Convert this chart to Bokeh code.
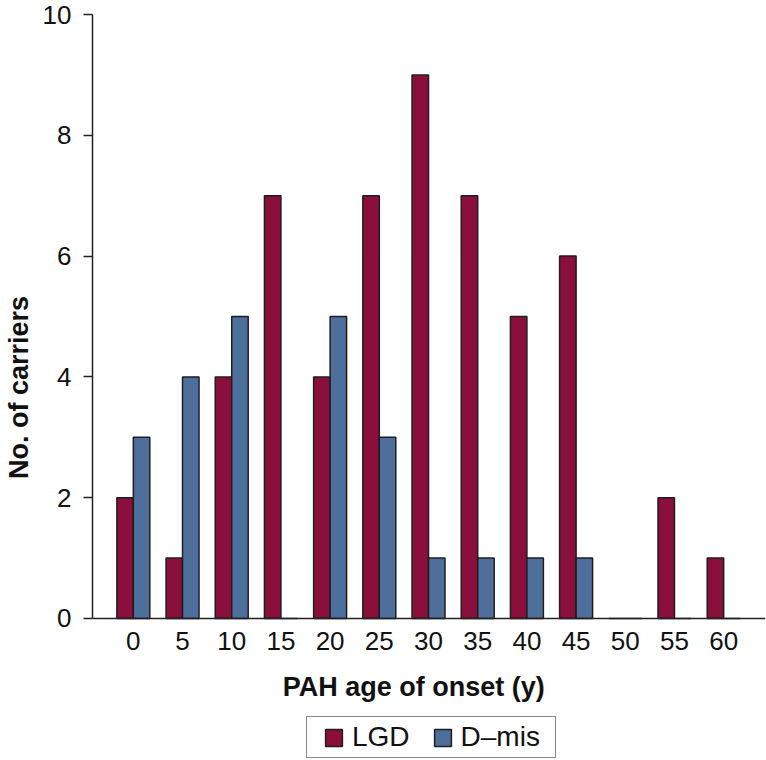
from bokeh.plotting import figure
from bokeh.models import ColumnDataSource, Legend, LegendItem, Label, FixedTicker, Range1d
from bokeh.transform import dodge
from bokeh.embed import file_html
from bokeh.resources import INLINE

ages = ["0", "5", "10", "15", "20", "25", "30", "35", "40", "45", "50", "55", "60"]
lgd = [2, 1, 4, 7, 4, 7, 9, 7, 5, 6, 0, 2, 1]
dmis = [3, 4, 5, 0, 5, 3, 1, 1, 1, 1, 0, 0, 0]
y_ticks = [0, 2, 4, 6, 8, 10]

idx = list(range(len(ages)))
src = ColumnDataSource(dict(x=idx, lgd=lgd, dmis=dmis))

FONT = "Liberation Sans"
LGD_COLOR = "#8A0F3B"
DMIS_COLOR = "#4E6F9C"
EDGE = "#1e1e1e"
TXT = "#111111"

# frame spans from the top of the y axis down to the page bottom; the x axis sits at y=0
p = figure(width=766, height=760, x_range=Range1d(-0.83, 12.85), y_range=Range1d(-2.351, 10),
           output_backend="svg", toolbar_location=None,
           min_border_left=89, min_border_top=14, min_border_right=1, min_border_bottom=0)
p.outline_line_color = None
p.xgrid.visible = False
p.ygrid.visible = False

r1 = p.vbar(x=dodge("x", -0.1675), top="lgd", width=0.335, source=src,
            fill_color=LGD_COLOR, line_color=EDGE, line_width=1.5)
r2 = p.vbar(x=dodge("x", 0.1675), top="dmis", width=0.335, source=src,
            fill_color=DMIS_COLOR, line_color=EDGE, line_width=1.5)

xa = p.xaxis[0]
xa.fixed_location = 0
xa.ticker = FixedTicker(ticks=idx)
xa.major_label_overrides = {i: a for i, a in zip(idx, ages)}
xa.major_tick_line_color = None
xa.minor_tick_line_color = None
xa.axis_line_width = 1.5
xa.axis_line_color = "#222222"
xa.major_label_text_font = FONT
xa.major_label_text_font_size = "26px"
xa.major_label_text_color = TXT
xa.major_label_standoff = 8

ya = p.yaxis[0]
ya.bounds = (0, 10)
ya.ticker = FixedTicker(ticks=y_ticks)
ya.minor_tick_line_color = None
ya.major_tick_in = 0
ya.major_tick_out = 9
ya.major_tick_line_width = 1.5
ya.major_tick_line_color = "#222222"
ya.axis_line_width = 1.5
ya.axis_line_color = "#222222"
ya.major_label_text_font = FONT
ya.major_label_text_font_size = "26px"
ya.major_label_text_color = TXT
ya.major_label_standoff = 12
ya.axis_label = "No. of carriers"
ya.axis_label_text_font = FONT
ya.axis_label_text_font_size = "27px"
ya.axis_label_text_font_style = "bold"
ya.axis_label_text_color = TXT
ya.axis_label_standoff = 6

title = Label(x=5.70, y=-1.142, x_units="data", y_units="data", text="PAH age of onset (y)",
              text_font=FONT, text_font_size="27px", text_font_style="bold",
              text_color=TXT, text_align="center", text_baseline="alphabetic")
p.add_layout(title)

legend = Legend(items=[LegendItem(label="LGD", renderers=[r1]),
                       LegendItem(label="D\u2013mis", renderers=[r2])],
                orientation="horizontal",
                border_line_color=TXT, border_line_width=1.5,
                label_text_font=FONT, label_text_font_size="28px", label_text_color=TXT,
                glyph_width=21, glyph_height=21, label_standoff=8, spacing=22,
                margin=0)
try:
    legend.padding = dict(left=16, right=15, top=4, bottom=4)
    legend.location = (303 - 89, 2)
except Exception:
    legend.padding = 5
    legend.spacing = 30
    legend.location = (305 - 89, 2)
p.add_layout(legend)

open("out.html", "w").write(file_html(p, INLINE))
